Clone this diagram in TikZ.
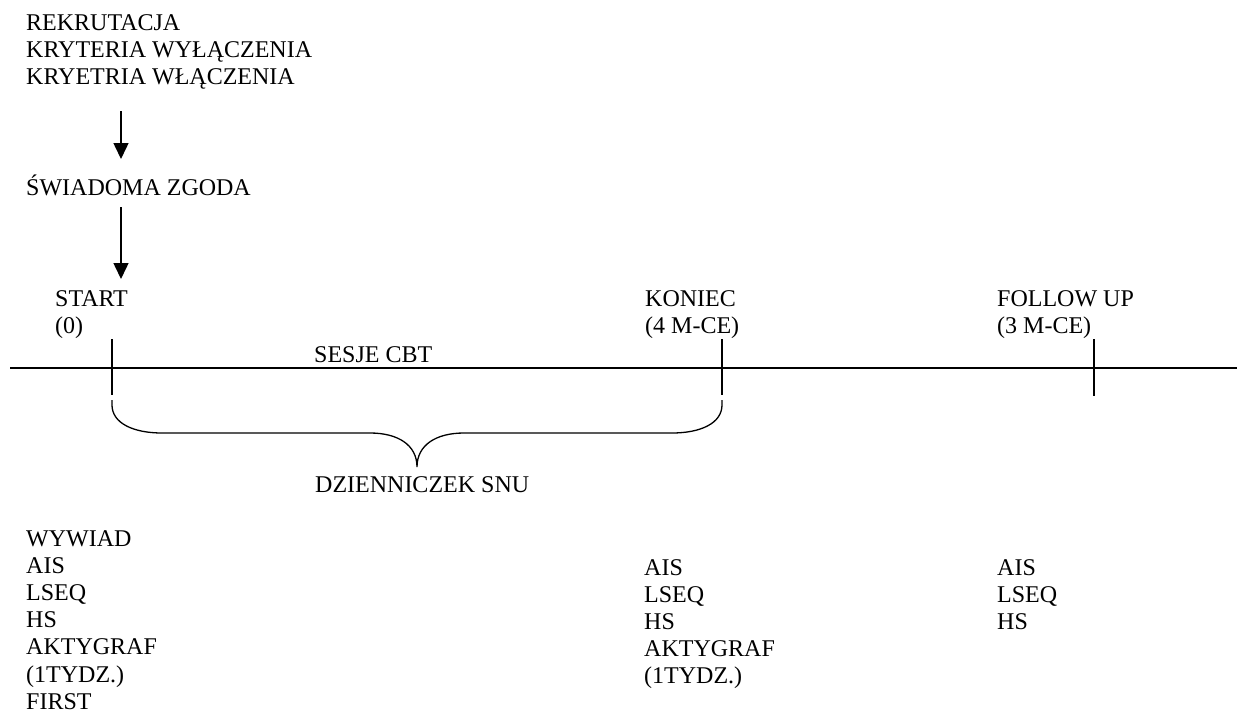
\documentclass[tikz,border=0pt]{standalone}
\usepackage{fontspec}
\setmainfont{Liberation Serif}
\usetikzlibrary{arrows.meta}
\begin{document}
\begin{tikzpicture}[x=1pt,y=-1pt,
  lbl/.style={anchor=base west, inner sep=0pt, align=left, font=\fontsize{24}{27.2}\selectfont},
  arr/.style={line width=1.5pt, -{Triangle[length=16pt,width=15pt]}},
  tickln/.style={line width=1.8pt},
  axisln/.style={line width=2pt},
  braceln/.style={line width=1.3pt}]
\useasboundingbox (0,0) rectangle (1237,715);
% texts (anchor at the baseline of the last line)
\node[lbl] (rek) at (26,84.4) {REKRUTACJA\\KRYTERIA WYŁĄCZENIA\\KRYETRIA WŁĄCZENIA};
\node[lbl] (zgoda) at (26,195) {ŚWIADOMA ZGODA};
\node[lbl] (start) at (55,333.2) {START\\(0)};
\node[lbl] (koniec) at (645,333.2) {KONIEC\\(4 M-CE)};
\node[lbl] (follow) at (997,333.2) {FOLLOW UP\\(3 M-CE)};
\node[lbl] (sesje) at (314,362) {SESJE CBT};
\node[lbl] (dzien) at (315,492) {DZIENNICZEK SNU};
\node[lbl] (col1) at (26,709.2) {WYWIAD\\AIS\\LSEQ\\HS\\AKTYGRAF\\(1TYDZ.)\\FIRST};
\node[lbl] (col2) at (644,683.8) {AIS\\LSEQ\\HS\\AKTYGRAF\\(1TYDZ.)};
\node[lbl] (col3) at (997,629.4) {AIS\\LSEQ\\HS};
% arrows
\coordinate (a1s) at (121,111);
\coordinate (a1e) at (121,159);
\coordinate (a2s) at (121,207);
\coordinate (a2e) at (121,279);
\draw[arr] (a1s) -- (a1e);
\draw[arr] (a2s) -- (a2e);
% axis
\coordinate (axl) at (10,368);
\coordinate (axr) at (1237,368);
\draw[axisln] (axl) -- (axr);
% ticks
\coordinate (t1a) at (112,339); \coordinate (t1b) at (112,395);
\coordinate (t2a) at (722,339); \coordinate (t2b) at (722,395);
\coordinate (t3a) at (1094,339); \coordinate (t3b) at (1094,396);
\draw[tickln] (t1a) -- (t1b);
\draw[tickln] (t2a) -- (t2b);
\draw[tickln] (t3a) -- (t3b);
% brace
\coordinate (bl) at (112,400);
\coordinate (br) at (722,400);
\coordinate (bt) at (417,467);
\draw[braceln] (bl) -- (112,405) .. controls (112,423) and (133,433) .. (162,433) -- (370,433)
  .. controls (398,433) and (417,445) .. (bt)
  .. controls (417,445) and (436,433) .. (464,433) -- (672,433)
  .. controls (701,433) and (722,423) .. (722,405) -- (br);
\end{tikzpicture}
\end{document}
